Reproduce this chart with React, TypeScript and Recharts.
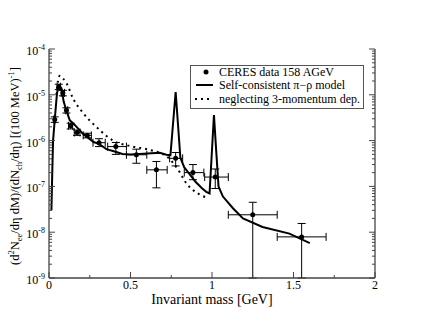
import { ComposedChart, ErrorBar, Legend, Line, Scatter, XAxis, YAxis } from 'recharts';

// CERES data points (mass in GeV, yield), with bin edges and error bounds
const cereMass = [0.035, 0.06, 0.085, 0.107, 0.133, 0.172, 0.235, 0.307, 0.41, 0.536, 0.659, 0.777, 0.883, 1.02, 1.25, 1.55];
const cereYield = [2.9e-6, 1.5e-5, 1.1e-5, 4.6e-6, 2.1e-6, 1.5e-6, 1.3e-6, 9.0e-7, 7.4e-7, 4.9e-7, 2.3e-7, 4.1e-7, 2.0e-7, 1.6e-7, 2.4e-8, 7.9e-9];
const cereMassLow = [0.03, 0.05, 0.075, 0.1, 0.12, 0.155, 0.21, 0.27, 0.36, 0.475, 0.6, 0.74, 0.83, 0.955, 1.1, 1.4];
const cereMassHigh = [0.04, 0.07, 0.095, 0.115, 0.145, 0.19, 0.26, 0.345, 0.475, 0.6, 0.725, 0.82, 0.95, 1.1, 1.4, 1.7];
const cereYieldLow = [2.5e-6, 1.3e-5, 9.5e-6, 4.0e-6, 1.8e-6, 1.3e-6, 1.15e-6, 7.4e-7, 5.0e-7, 3.2e-7, 9.3e-8, 2.8e-7, 1.4e-7, 9e-8, 1e-9, 1e-9];
const cereYieldHigh = [3.3e-6, 1.7e-5, 1.25e-5, 5.2e-6, 2.4e-6, 1.7e-6, 1.45e-6, 1.1e-6, 9.1e-7, 6.5e-7, 3.5e-7, 5.5e-7, 3.0e-7, 2.4e-7, 4.5e-8, 1.55e-8];

// self-consistent pi-rho model
const modelMass = [0.015, 0.02, 0.025, 0.035, 0.049, 0.061, 0.076, 0.09, 0.107, 0.127, 0.158, 0.209, 0.27, 0.311, 0.352, 0.403, 0.45, 0.5, 0.556, 0.628, 0.68, 0.72, 0.745, 0.777, 0.806, 0.83, 0.86, 0.9, 0.94, 0.965, 0.985, 1.0, 1.012, 1.025, 1.04, 1.067, 1.13, 1.19, 1.31, 1.475, 1.6];
const modelYield = [3e-8, 2e-7, 1e-6, 2.8e-6, 1.08e-5, 1.6e-5, 1.4e-5, 7.1e-6, 4.5e-6, 2.8e-6, 2.2e-6, 1.4e-6, 9.5e-7, 8.3e-7, 6.5e-7, 5.8e-7, 5.1e-7, 5.0e-7, 5.1e-7, 5.3e-7, 5.4e-7, 4.9e-7, 4.8e-7, 1.15e-5, 4.2e-7, 2.6e-7, 1.9e-7, 1.25e-7, 9e-8, 7.6e-8, 7e-8, 6.3e-7, 3.6e-6, 6.6e-7, 1e-7, 6e-8, 3.3e-8, 2.0e-8, 1.3e-8, 9.3e-9, 5.8e-9];

// neglecting 3-momentum dependence
const noMomMass = [0.045, 0.055, 0.066, 0.085, 0.107, 0.147, 0.209, 0.29, 0.393, 0.515, 0.6, 0.638, 0.68, 0.72, 0.76, 0.8, 0.84, 0.88, 0.93, 0.98];
const noMomYield = [1.0e-5, 2.0e-5, 2.6e-5, 2.3e-5, 1.8e-5, 8.4e-6, 4.0e-6, 2.0e-6, 1.0e-6, 7.4e-7, 6.5e-7, 6.0e-7, 5.4e-7, 4.6e-7, 3.3e-7, 2.1e-7, 1.2e-7, 8.5e-8, 6.5e-8, 5.5e-8];

const xTicks = [0, 0.25, 0.5, 0.75, 1, 1.25, 1.5, 1.75, 2];
const xLabels = ['0', '', '0.5', '', '1', '', '1.5', '', '2'];
const yDecades = [-9, -8, -7, -6, -5];

const yTicks: number[] = [];
yDecades.forEach((d) => {
  for (let k = 1; k <= 9; k++) yTicks.push(k * Math.pow(10, d));
});
yTicks.push(1e-4);

const cereData = cereMass.map((m, i) => ({
  m,
  y: cereYield[i],
  ex: [m - cereMassLow[i], cereMassHigh[i] - m],
  ey: [cereYield[i] - cereYieldLow[i], cereYieldHigh[i] - cereYield[i]],
}));
const modelData = modelMass.map((m, i) => ({ m, y: modelYield[i] }));
const noMomData = noMomMass.map((m, i) => ({ m, y: noMomYield[i] }));

const FONT = '"Liberation Serif", "DejaVu Serif", serif';
const AXIS = '#444';

const isMajorY = (v: number) => {
  const l = Math.log10(v);
  return Math.abs(l - Math.round(l)) < 1e-6;
};

const LeftTick = (props: any) => {
  const { x, y, payload } = props;
  const v = payload.value;
  const major = isMajorY(v);
  const exp = Math.round(Math.log10(v));
  return (
    <g>
      <line x1={x} x2={x + (major ? 6 : 3)} y1={y} y2={y} stroke={AXIS} />
      {major && (
        <text x={x - 4} y={y + 6} textAnchor="end" fontFamily={FONT} fontSize={12} fill="#000">
          10
          <tspan dy={-5} fontSize={8}>{`-${Math.abs(exp)}`}</tspan>
        </text>
      )}
    </g>
  );
};

const RightTick = (props: any) => {
  const { x, y, payload } = props;
  const major = isMajorY(payload.value);
  return <line x1={x} x2={x - (major ? 6 : 3)} y1={y} y2={y} stroke={AXIS} />;
};

const BottomTick = (props: any) => {
  const { x, y, index } = props;
  const label = xLabels[index] ?? '';
  const major = label !== '';
  return (
    <g>
      <line x1={x} x2={x} y1={y} y2={y - (major ? 6 : 3)} stroke={AXIS} />
      {major && (
        <text x={x} y={y + 11} textAnchor="middle" fontFamily={FONT} fontSize={12} fill="#000">
          {label}
        </text>
      )}
    </g>
  );
};

const TopTick = (props: any) => {
  const { x, y, index } = props;
  const major = (xLabels[index] ?? '') !== '';
  return <line x1={x} x2={x} y1={y} y2={y + (major ? 6 : 3)} stroke={AXIS} />;
};

const renderLegend = () => (
  <svg width={174} height={44} style={{ display: 'block' }}>
    <rect x={0.5} y={0.5} width={173} height={43} fill="#fff" stroke="#555" />
    <circle cx={16} cy={7} r={2.5} fill="#000" />
    <line x1={6} x2={23} y1={20} y2={20} stroke="#000" strokeWidth={2} />
    <line x1={5} x2={23} y1={34} y2={34} stroke="#000" strokeWidth={2} strokeDasharray="2 4" />
    <g fontFamily={FONT} fontSize={12} fill="#000">
      <text x={29} y={11}>CERES data 158 AGeV</text>
      <text x={29} y={24}>Self-consistent π−ρ model</text>
      <text x={29} y={38}>neglecting 3-momentum dep.</text>
    </g>
  </svg>
);

export default function App() {
  return (
    <div style={{ position: 'absolute', left: 0, top: 0, width: 423, height: 327, background: '#fff' }}>
      <ComposedChart width={423} height={327} margin={{ top: 49, right: 0, bottom: 0, left: 0 }}>
        <XAxis
          dataKey="m"
          type="number"
          domain={[0, 2]}
          ticks={xTicks}
          interval={0}
          allowDataOverflow
          height={49}
          tickSize={0}
          tickMargin={0}
          tickLine={false}
          tick={<BottomTick />}
          axisLine={{ stroke: AXIS, strokeWidth: 1.3 }}
        />
        <XAxis
          xAxisId="top"
          orientation="top"
          dataKey="m"
          type="number"
          domain={[0, 2]}
          ticks={xTicks}
          interval={0}
          allowDataOverflow
          height={0}
          tickSize={0}
          tickMargin={0}
          tickLine={false}
          tick={<TopTick />}
          axisLine={{ stroke: AXIS, strokeWidth: 1.3 }}
        />
        <YAxis
          type="number"
          scale="log"
          domain={[1e-9, 1e-4]}
          ticks={yTicks}
          interval={0}
          allowDataOverflow
          width={49}
          tickSize={0}
          tickMargin={0}
          tickLine={false}
          tick={<LeftTick />}
          axisLine={{ stroke: AXIS, strokeWidth: 1.3 }}
        />
        <YAxis
          yAxisId="right"
          orientation="right"
          type="number"
          scale="log"
          domain={[1e-9, 1e-4]}
          ticks={yTicks}
          interval={0}
          allowDataOverflow
          width={48}
          tickSize={0}
          tickMargin={0}
          tickLine={false}
          tick={<RightTick />}
          axisLine={{ stroke: AXIS, strokeWidth: 1.3 }}
        />
        <Legend
          layout="vertical"
          align="center"
          verticalAlign="middle"
          content={renderLegend}
          wrapperStyle={{ position: 'absolute', left: 190, top: 65, width: 174, height: 44 }}
        />
        <Line
          data={noMomData}
          dataKey="y"
          type="monotone"
          stroke="#000"
          strokeWidth={2}
          strokeDasharray="2 4"
          dot={false}
          isAnimationActive={false}
        />
        <Line
          data={modelData}
          dataKey="y"
          type="linear"
          stroke="#000"
          strokeWidth={2}
          dot={false}
          isAnimationActive={false}
        />
        <Scatter
          data={cereData}
          dataKey="y"
          isAnimationActive={false}
          shape={(p: any) => <circle cx={p.cx} cy={p.cy} r={2.5} fill="#000" />}
        >
          <ErrorBar dataKey="ex" direction="x" width={4} stroke="#000" strokeWidth={1} />
          <ErrorBar dataKey="ey" direction="y" width={4} stroke="#000" strokeWidth={1} />
        </Scatter>
      </ComposedChart>
      <svg width={40} height={327} style={{ position: 'absolute', left: 0, top: 0, pointerEvents: 'none' }}>
        <text
          transform="translate(19,166) rotate(-90)"
          textAnchor="middle"
          fontFamily={FONT}
          fontSize={12.5}
          fill="#000"
        >
          (d<tspan dy={-5} fontSize={8.5}>2</tspan>
          <tspan dy={5}>N</tspan>
          <tspan dy={3} fontSize={8.5}>ee</tspan>
          <tspan dy={-3}>/dη  dM)/(dN</tspan>
          <tspan dy={3} fontSize={8.5}>ch</tspan>
          <tspan dy={-3}>/dη) [(100 MeV)</tspan>
          <tspan dy={-5} fontSize={8.5}>-1</tspan>
          <tspan dy={5}>]</tspan>
        </text>
      </svg>
      <div
        style={{
          position: 'absolute',
          left: 0,
          top: 293,
          width: 423,
          fontFamily: FONT,
          fontSize: 14,
          lineHeight: '14px',
          color: '#000',
        }}
      >
        <span style={{ position: 'absolute', left: 212, transform: 'translateX(-50%)', whiteSpace: 'nowrap' }}>
          Invariant mass [GeV]
        </span>
      </div>
    </div>
  );
}
